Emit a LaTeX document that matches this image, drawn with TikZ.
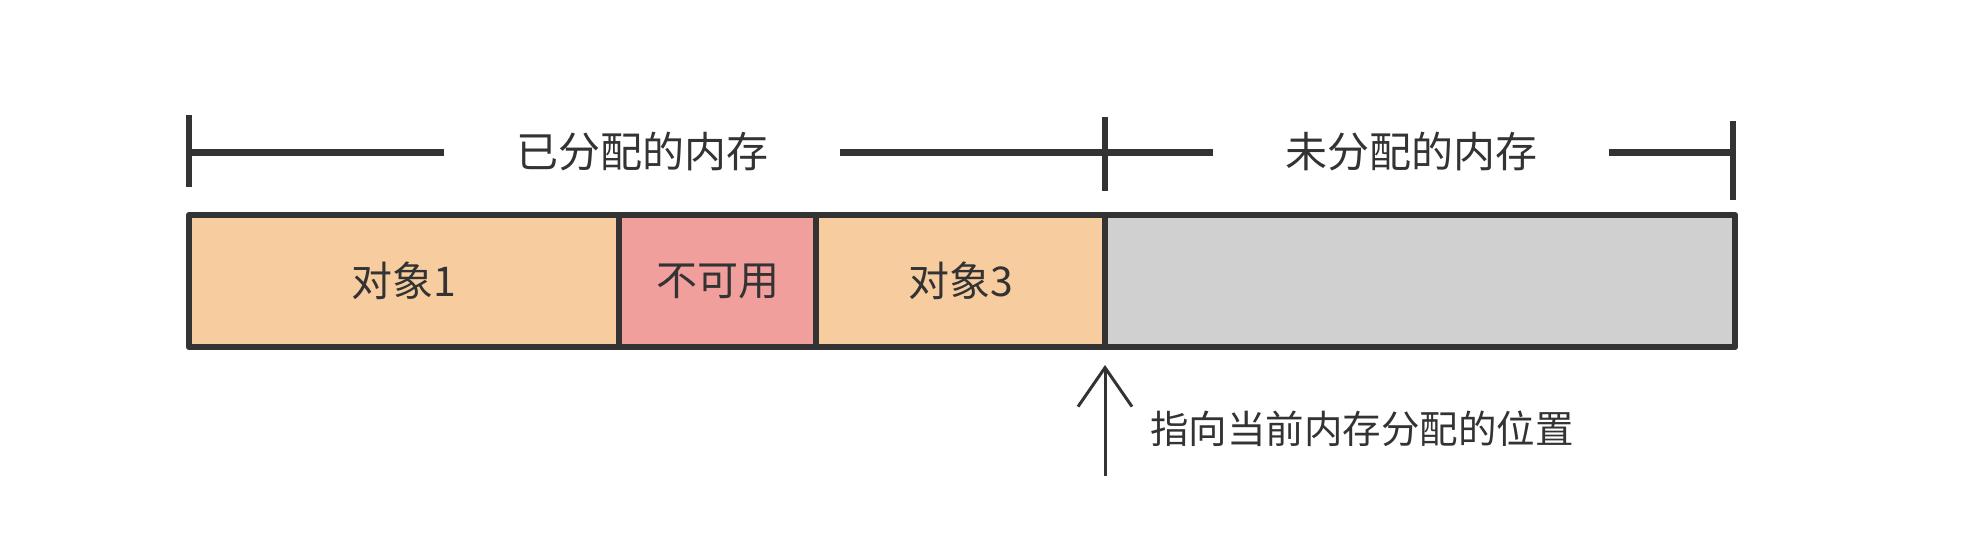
\documentclass[tikz,border=0pt]{standalone}
\usepackage{fontspec}
\setmainfont{Noto Sans CJK SC}
\usepackage{xcolor}
\usepackage{tikz}
\usetikzlibrary{arrows.meta}
\definecolor{usedc}{HTML}{F7CDA0}
\definecolor{lostc}{HTML}{F19F9D}
\definecolor{freec}{HTML}{D0D0D0}
\definecolor{inkc}{HTML}{333333}

\begin{document}
\begin{tikzpicture}[x=1pt,y=-1pt,inkc,
  cell/.style={rectangle,draw=inkc,line width=6.5pt,line join=round,inner sep=0pt,minimum height=132pt,font=\fontsize{41pt}{48pt}\selectfont},
  span/.style={inner xsep=72pt,inner ysep=0pt,font=\fontsize{42pt}{50pt}\selectfont},
  tick/.style={line width=6pt},
  bar/.style={line width=7pt}]
\useasboundingbox (0,0) rectangle (1977,535);

\node (C1)[cell,minimum width=430pt,fill=usedc] at (404,281) {对象1};
\node (C2)[cell,minimum width=197pt,fill=lostc] at (717.5,281) {不可用};
\node (C3)[cell,minimum width=289pt,fill=usedc] at (960.5,281) {对象3};
\node (C4)[cell,minimum width=630pt,fill=freec] at (1420,281) {};

\coordinate (T1) at (189,152);
\coordinate (T2) at (1105,152);
\coordinate (T3) at (1733,152);
\node (L1)[span] at (642,152) {已分配的内存};
\node (L2)[span] at (1411,152) {未分配的内存};

\draw[bar] (T1) -- (L1);
\draw[bar] (L1) -- (T2);
\draw[bar] (T2) -- (L2);
\draw[bar] (L2) -- (T3);

\draw[tick] (T1) ++(0,-37) -- ++(0,72);
\draw[tick] (T2) ++(0,-35) -- ++(0,74);
\draw[tick] (T3) ++(0,-31) -- ++(0,79);

\coordinate (A0) at (1105,476);
\coordinate (A1) at (1105,365);
\draw[line width=3pt,-{Straight Barb[length=39pt,width=54pt,line width=3pt]}] (A0) -- (A1);
\node (P)[anchor=west,inner sep=0pt,font=\fontsize{38.5pt}{46pt}\selectfont] at (1150,429) {指向当前内存分配的位置};
\end{tikzpicture}
\end{document}
